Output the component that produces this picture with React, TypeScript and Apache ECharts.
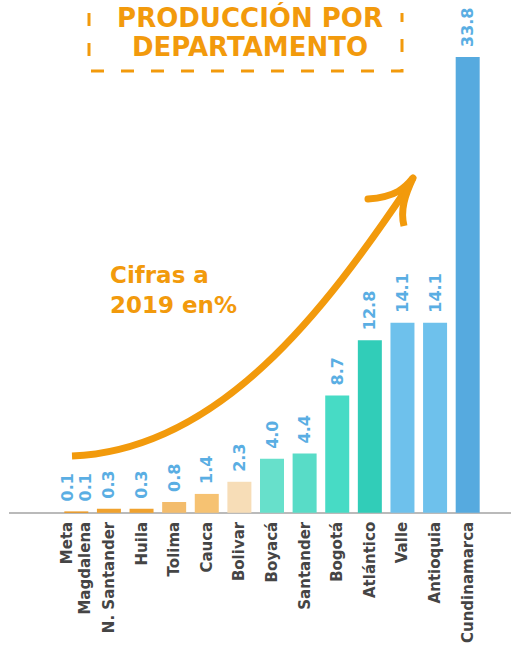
import React, { useEffect, useRef } from "react";
import * as echarts from "echarts";

const departments = ["Meta", "Magdalena", "N. Santander", "Huila", "Tolima", "Cauca", "Bolivar", "Boyacá", "Santander", "Bogotá", "Atlántico", "Valle", "Antioquia", "Cundinamarca"];
const values = [0.1, 0.1, 0.3, 0.3, 0.8, 1.4, 2.3, 4.0, 4.4, 8.7, 12.8, 14.1, 14.1, 33.8];
const barColors = ["#EE9412", "#F0A22E", "#F0A22E", "#F3BC6C", "#F6C272", "#F7DDB7", "#67E0CB", "#58DCC7", "#47DBC5", "#31CDB8", "#6EC1EC", "#6EC1EC", "#56AADF"];
const titleLines = ["PRODUCCIÓN POR", "DEPARTAMENTO"];
const noteLines = ["Cifras a", "2019 en%"];

const ORANGE = "#F29A0C";
const FONT = "DejaVu Sans";

export default function App() {
  const ref = useRef<HTMLDivElement>(null);
  useEffect(() => {
    if (!ref.current) return;
    const chart = echarts.init(ref.current, null, { renderer: "svg" });
    // first slot groups Meta and Magdalena
    const categories = [departments[0] + "\n" + departments[1], ...departments.slice(2)];
    const slotValues = [Math.max(values[0], values[1]), ...values.slice(2)];
    const slotLabels = [values[0].toFixed(1) + "\n" + values[1].toFixed(1), ...values.slice(2).map((v) => v.toFixed(1))];

    chart.setOption({
      animation: false,
      grid: { left: 60, right: 27, top: 57, bottom: 133 },
      xAxis: {
        type: "category",
        data: categories,
        axisLine: { show: false },
        axisTick: { show: false },
        axisLabel: {
          interval: 0,
          rotate: 90,
          margin: 9,
          fontSize: 15,
          lineHeight: 18,
          fontWeight: "bold",
          fontFamily: FONT,
          color: "#454545",
        },
      },
      yAxis: { type: "value", min: 0, max: 33.8, show: false, splitLine: { show: false } },
      series: [
        {
          type: "bar",
          barWidth: 24,
          data: slotValues.map((v, i) => ({ value: v, itemStyle: { color: barColors[i] } })),
          label: {
            show: true,
            position: "top",
            rotate: 90,
            align: "left",
            verticalAlign: "middle",
            distance: 10,
            fontSize: 16,
            lineHeight: 18,
            fontWeight: "bold",
            fontFamily: FONT,
            color: "#5AAEE3",
            formatter: (p: any) => slotLabels[p.dataIndex],
          },
        },
      ],
      graphic: [
        { type: "line", shape: { x1: 9, y1: 513, x2: 511, y2: 513 }, style: { stroke: "#A3A3A3", lineWidth: 1.5 } },
        {
          type: "polyline",
          shape: { points: [[89, 13], [89, 71], [402, 71], [402, 13]] },
          style: { stroke: ORANGE, lineWidth: 3, fill: null, lineDash: [13, 17] },
        },
        {
          type: "text",
          x: 250,
          y: 32,
          style: {
            text: titleLines.join("\n"),
            font: `bold 26px "${FONT}"`,
            fill: ORANGE,
            align: "center",
            verticalAlign: "middle",
            lineHeight: 29,
          },
        },
        {
          type: "text",
          x: 110,
          y: 290,
          style: {
            text: noteLines.join("\n"),
            font: `bold 23px "${FONT}"`,
            fill: ORANGE,
            align: "left",
            verticalAlign: "middle",
            lineHeight: 30,
          },
        },
        {
          type: "bezierCurve",
          shape: { x1: 72, y1: 456, cpx1: 220, cpy1: 450, cpx2: 325, cpy2: 310, x2: 410, y2: 184 },
          style: { stroke: ORANGE, lineWidth: 7, fill: null },
        },
        {
          type: "bezierCurve",
          shape: { x1: 368, y1: 199, cpx1: 396, cpy1: 197, cpx2: 405, cpy2: 188, x2: 413, y2: 178 },
          style: { stroke: ORANGE, lineWidth: 7, fill: null, lineCap: "round" },
        },
        {
          type: "bezierCurve",
          shape: { x1: 413, y1: 178, cpx1: 405, cpy1: 195, cpx2: 400, cpy2: 210, x2: 404, y2: 226 },
          style: { stroke: ORANGE, lineWidth: 7, fill: null },
        },
      ],
    });
    return () => chart.dispose();
  }, []);
  return <div ref={ref} style={{ position: "fixed", left: 0, top: 0, width: 511, height: 646, background: "#fff" }} />;
}
